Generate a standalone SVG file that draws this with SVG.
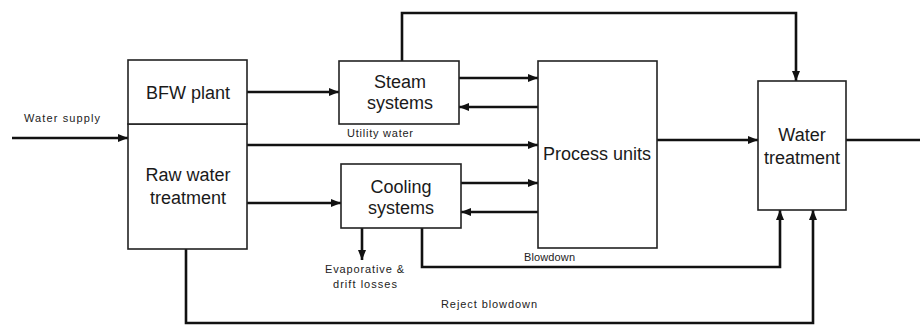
<svg xmlns="http://www.w3.org/2000/svg" width="920" height="327" viewBox="0 0 920 327">
<defs>
<marker id="ah" markerUnits="userSpaceOnUse" markerWidth="10" markerHeight="10" viewBox="0 0 10 10" refX="10" refY="5" orient="auto">
<path d="M0,1 L10,5 L0,9 Z" fill="#111"/>
</marker>
<style>
.box{fill:#fff;stroke:#222;stroke-width:1.6}
.lbl{font-family:"Liberation Sans",Arial,sans-serif;font-size:18px;fill:#1a1a1a;text-anchor:middle}
.sm{font-family:"Liberation Sans",Arial,sans-serif;font-size:11px;fill:#222}
.c{fill:none;stroke:#111;stroke-width:2.6}
.a{marker-end:url(#ah)}
</style>
</defs>
<rect width="920" height="327" fill="#fff"/>
<g id="connectors">
<path class="c a" d="M12,138 H128"/>
<path class="c a" d="M247,92 H339"/>
<path class="c a" d="M247,145 H538"/>
<path class="c a" d="M247,203 H341"/>
<path class="c a" d="M459,78 H538"/>
<path class="c a" d="M538,107 H459"/>
<path class="c a" d="M461,183 H538"/>
<path class="c a" d="M538,212 H461"/>
<path class="c a" d="M402,61 V13 H796 V81"/>
<path class="c a" d="M657,140 H758"/>
<path class="c" d="M846,140 H920"/>
<path class="c a" d="M362,228 V260"/>
<path class="c a" d="M422,228 V267 H780 V210"/>
<path class="c a" d="M186,249 V323 H813 V210"/>
</g>
<g id="raw-water-treatment">
<rect class="box" x="128" y="124" width="119" height="125"/>
<text class="lbl" x="188" y="181">Raw water</text>
<text class="lbl" x="188" y="204">treatment</text>
</g>
<g id="bfw-plant">
<rect class="box" x="128" y="60" width="119" height="64"/>
<text class="lbl" x="188" y="99">BFW plant</text>
</g>
<g id="steam-systems">
<rect class="box" x="339" y="61" width="120" height="63"/>
<text class="lbl" x="400" y="88">Steam</text>
<text class="lbl" x="400" y="109">systems</text>
</g>
<g id="cooling-systems">
<rect class="box" x="341" y="164" width="120" height="64"/>
<text class="lbl" x="401" y="193">Cooling</text>
<text class="lbl" x="401" y="214">systems</text>
</g>
<g id="process-units">
<rect class="box" x="538" y="61" width="119" height="187"/>
<text class="lbl" x="597" y="160">Process units</text>
</g>
<g id="water-treatment">
<rect class="box" x="758" y="81" width="88" height="129"/>
<text class="lbl" x="802" y="141">Water</text>
<text class="lbl" x="802" y="164">treatment</text>
</g>
<g id="labels">
<text class="sm" x="24" y="122" textLength="76">Water supply</text>
<text class="sm" x="347" y="137" textLength="66">Utility water</text>
<text class="sm" x="325" y="273" textLength="79">Evaporative &amp;</text>
<text class="sm" x="333" y="288" textLength="64">drift losses</text>
<text class="sm" x="524" y="261" textLength="51">Blowdown</text>
<text class="sm" x="441" y="308" textLength="96">Reject blowdown</text>
</g>
</svg>
